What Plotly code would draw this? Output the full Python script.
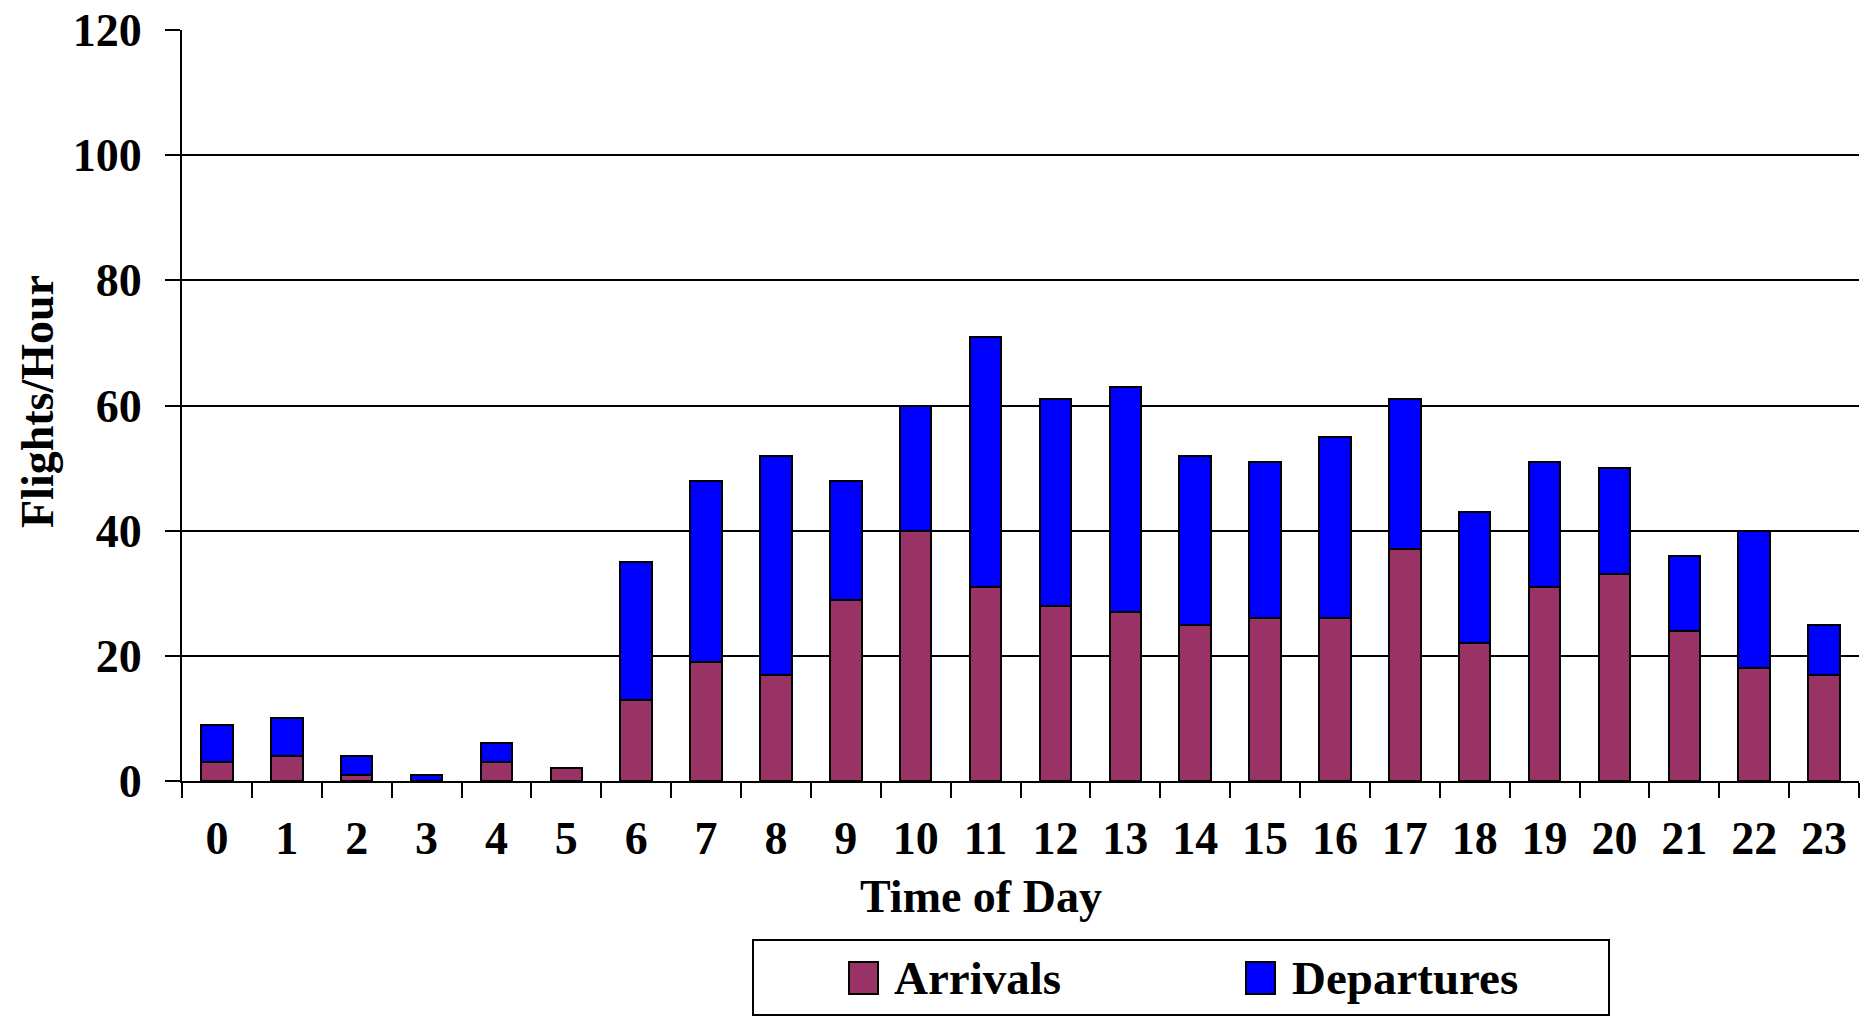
import plotly.graph_objects as go

# Hourly flight counts
hours = [str(h) for h in range(24)]
arrivals = [3, 4, 1, 0, 3, 2, 13, 19, 17, 29, 40, 31, 28, 27, 25, 26, 26, 37, 22, 31, 33, 24, 18, 17]
departures = [6, 6, 3, 1, 3, 0, 22, 29, 35, 19, 20, 40, 33, 36, 27, 25, 29, 24, 21, 20, 17, 12, 22, 8]
y_ticks = [0, 20, 40, 60, 80, 100, 120]

ARR_COLOR = "#993366"
DEP_COLOR = "#0000FF"
FONT = "Liberation Serif"

W, H = 1865, 1023
L, R, T, B = 182, 6, 30, 242
PW, PH = W - L - R, H - T - B


def px(x):
    return (x - L) / PW


def py(y):
    return (H - B - y) / PH


fig = go.Figure()
fig.add_trace(go.Bar(x=hours, y=arrivals, name="Arrivals",
                     marker=dict(color=ARR_COLOR, line=dict(color="black", width=2))))
fig.add_trace(go.Bar(x=hours, y=departures, name="Departures",
                     marker=dict(color=DEP_COLOR, line=dict(color="black", width=2))))

fig.update_layout(
    width=W, height=H,
    margin=dict(l=L, r=R, t=T, b=B),
    paper_bgcolor="white", plot_bgcolor="white",
    barmode="stack", bargap=0.55, showlegend=False,
    font=dict(family=FONT, color="black"),
)

fig.update_xaxes(
    type="category", tickson="boundaries", ticks="outside", ticklen=15,
    tickwidth=2, tickcolor="black", showline=True, linewidth=2, linecolor="black",
    showgrid=False, ticklabelstandoff=16,
    tickfont=dict(family=FONT, size=46, weight="bold", color="black"),
)
fig.update_yaxes(
    range=[0, 120], tickvals=y_ticks, ticks="outside", ticklen=15, tickwidth=2,
    tickcolor="black", showline=True, linewidth=2, linecolor="black",
    showgrid=True, gridcolor="black", gridwidth=2, zeroline=False,
    ticklabelstandoff=14,
    tickfont=dict(family=FONT, size=46, weight="bold", color="black"),
)

# Axis titles
fig.add_annotation(text="<b>Time of Day</b>", xref="paper", yref="paper",
                   x=px(981), y=py(896), xanchor="center", yanchor="middle",
                   showarrow=False,
                   font=dict(family=FONT, size=46, color="black"))
fig.add_annotation(text="<b>Flights/Hour</b>", xref="paper", yref="paper",
                   x=px(37), y=py(402), xanchor="center", yanchor="middle",
                   showarrow=False, textangle=-90,
                   font=dict(family=FONT, size=46, color="black"))

# Legend box with swatches
fig.add_shape(type="rect", xref="paper", yref="paper",
              x0=px(753), x1=px(1609), y0=py(1015), y1=py(940),
              line=dict(color="black", width=2), fillcolor="white")
for sx, tx, label, color in [(849, 892, "Arrivals", ARR_COLOR),
                              (1246, 1290, "Departures", DEP_COLOR)]:
    fig.add_shape(type="rect", xref="paper", yref="paper",
                  x0=px(sx), x1=px(sx + 29), y0=py(994), y1=py(962),
                  line=dict(color="black", width=2), fillcolor=color)
    fig.add_annotation(text=f"<b>{label}</b>", xref="paper", yref="paper",
                       x=px(tx), y=py(978), xanchor="left", yanchor="middle",
                       showarrow=False,
                       font=dict(family=FONT, size=47, color="black"))

fig.write_html("out.html")
